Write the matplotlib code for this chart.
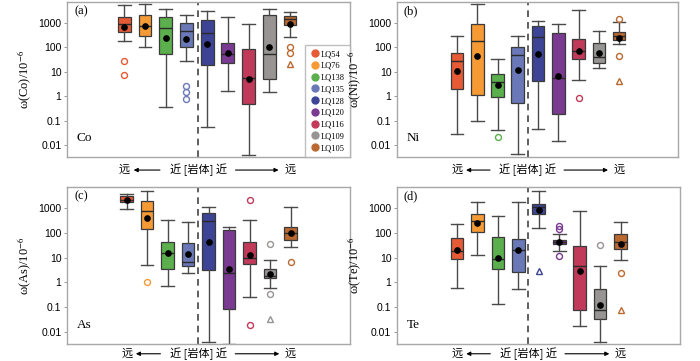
import matplotlib
matplotlib.use("Agg")
import matplotlib.pyplot as plt
from matplotlib.lines import Line2D

plt.rcParams['font.family'] = ['Liberation Serif', 'Noto Sans CJK SC']
plt.rcParams['mathtext.fontset'] = 'stix'

samples = ['LQ54', 'LQ76', 'LQ138', 'LQ135', 'LQ128', 'LQ120', 'LQ116', 'LQ109', 'LQ105']
colors = ['#E65A35', '#F59A35', '#5BAF4C', '#6A78B8', '#3D4496',
          '#7A3A92', '#C23A5A', '#999494', '#BA6A30']

# each row: whisker low, q1, median, q3, whisker high, mean
co_box = [
    [185, 415, 855, 1650, 5250, 690],
    [105, 290, 755, 2050, 5760, 755],
    [0.38, 53, 625, 1760, 3720, 245],
    [27, 105, 470, 1000, 2050, 216],
    [0.058, 18, 380, 1280, 2900, 139],
    [1.6, 22, 51, 153, 1650, 58],
    [0.0041, 0.48, 5.3, 82, 880, 5.0],
    [1.45, 5.0, 51, 2050, 3500, 98],
    [260, 800, 1450, 1810, 2720, 855],
]
ni_box = [
    [0.029, 1.95, 27, 59, 280, 11],
    [0.093, 1.12, 180, 855, 5500, 44],
    [0.043, 0.95, 3.9, 8.1, 32, 2.76],
    [0.0045, 0.51, 47, 105, 290, 11.5],
    [0.045, 4.0, 263, 760, 1170, 54],
    [0.015, 0.19, 5.5, 370, 855, 6.9],
    [4.4, 33, 69, 205, 3150, 69],
    [13.5, 22, 41, 142, 447, 56],
    [132, 193, 290, 395, 1030, 233],
]
as_box = [
    [885, 1690, 2170, 2950, 3550, 2170],
    [5.2, 146, 780, 1910, 4690, 395],
    [0.69, 3.5, 15.4, 41.5, 338, 14.9],
    [2.35, 4.6, 6.9, 39, 264, 14],
    [0.004, 3.1, 308, 610, 1100, 44],
    [0.0034, 0.087, 2.35, 123, 171, 3.4],
    [0.27, 5.5, 9.3, 44, 338, 12.7],
    [0.59, 1.45, 1.8, 3.5, 7.8, 2.1],
    [27, 50, 102, 177, 1130, 98],
]
te_box = [
    [0.57, 9.1, 19, 63, 225, 20],
    [12.4, 110, 306, 570, 1750, 240],
    [0.13, 3.5, 8.9, 65, 460, 9.8],
    [0.54, 2.7, 20, 57, 1750, 20],
    [155, 590, 1100, 1450, 4900, 805],
    [19, 34, 43, 52, 91, 43],
    [0.017, 0.081, 4.5, 29, 730, 2.9],
    [0.0041, 0.034, 0.081, 0.53, 4.5, 0.12],
    [8.3, 22.5, 41, 91, 280, 34],
]

# outliers: (sample index, value, marker)
co_out = [(0, 27, 'o'), (0, 7.4, 'o'), (3, 2.7, 'o'), (3, 1.55, 'o'), (3, 0.8, 'o'),
          (8, 105, 'o'), (8, 60, 'o'), (8, 20, '^')]
ni_out = [(2, 0.022, 'o'), (6, 0.87, 'o'), (8, 1360, 'o'), (8, 45, 'o'), (8, 4.3, '^')]
as_out = [(1, 1.07, 'o'), (6, 2040, 'o'), (6, 0.02, 'o'), (7, 36.5, 'o'), (7, 0.33, 'o'),
          (7, 0.033, '^'), (8, 6.9, 'o')]
te_out = [(4, 2.95, '^'), (5, 190, 'o'), (5, 135, 'o'), (5, 12, 'o'), (7, 32, 'o'),
          (8, 2.3, 'o'), (8, 0.076, '^')]

panels = [
    ('(a)', 'Co', co_box, co_out, [0.0957, 0.565, 0.4043, 0.4295], -1.77, 4.57, -0.084),
    ('(b)', 'Ni', ni_box, ni_out, [0.567, 0.565, 0.4016, 0.4295], -1.96, 4.48, -0.084),
    ('(c)', 'As', as_box, as_out, [0.0957, 0.047, 0.4043, 0.435], -1.91, 4.5, -0.062),
    ('(d)', 'Te', te_box, te_out, [0.567, 0.047, 0.4043, 0.435], -1.94, 4.48, -0.062),
]

fig = plt.figure(figsize=(7, 3.61), dpi=100)

for tag, elem, box, out, rect, xlo, xdash, yb in panels:
    ax = fig.add_axes(rect)
    pos = list(range(1, len(samples) + 1))
    stats = []
    for row in box:
        stats.append(dict(whislo=row[0], q1=row[1], med=row[2], q3=row[3],
                          whishi=row[4], mean=row[5], fliers=[]))
    bp = ax.bxp(stats, positions=pos, widths=0.62, capwidths=0.62,
                patch_artist=True, showmeans=True, showfliers=False,
                boxprops=dict(edgecolor='#3a3a3a', linewidth=0.9),
                whiskerprops=dict(color='#4a4a4a', linewidth=1.0),
                capprops=dict(color='#4a4a4a', linewidth=1.0),
                medianprops=dict(color='#2a2a2a', linewidth=1.0),
                meanprops=dict(marker='o', markerfacecolor='black',
                               markeredgecolor='black', markersize=3.8))
    for patch, c in zip(bp['boxes'], colors):
        patch.set_facecolor(c)
    for i, v, m in out:
        ax.plot(pos[i], v, marker=m, linestyle='none', markerfacecolor='none',
                markeredgecolor=colors[i], markeredgewidth=1.0, markersize=4.3)

    ax.set_yscale('log')
    ax.set_ylim(10 ** -2.48, 10 ** 3.84)
    ax.set_xlim(xlo, 11.9)
    ax.axvline(xdash, color='#444444', linestyle=(0, (4, 3)), linewidth=1.2)
    ax.set_xticks([])
    ax.set_yticks([0.01, 0.1, 1, 10, 100, 1000])
    ax.set_yticklabels(['0.01', '0.1', '1', '10', '100', '1000'],
                       fontfamily='Liberation Sans', fontsize=7.5)
    ax.minorticks_off()
    ax.tick_params(axis='y', length=2, width=0.6, color='#888888', pad=2)
    for sp in ax.spines.values():
        sp.set_color('#a8a8a8')
        sp.set_linewidth(1.0)
    ax.set_ylabel('ω(%s)/10$^{-6}$' % elem, fontsize=9, labelpad=3)

    ax.text(0.025, 0.94, tag, transform=ax.transAxes, fontsize=9, va='center')
    ax.text(0.035, 0.12, elem, transform=ax.transAxes, fontsize=9.5, va='center')

    # distance annotation below the panel
    tr = ax.get_xaxis_transform()
    ax.text(pos[0], yb, '远', transform=tr, ha='center', va='center',
            fontsize=8, fontfamily='Noto Sans CJK SC', clip_on=False)
    ax.text(pos[-1], yb, '远', transform=tr, ha='center', va='center',
            fontsize=8, fontfamily='Noto Sans CJK SC', clip_on=False)
    ax.text(xdash, yb, '近 [岩体] 近', transform=tr, ha='center', va='center',
            fontsize=8, fontfamily='Noto Sans CJK SC', clip_on=False)
    ax.annotate('', xy=(pos[0] + 0.45, yb), xytext=(xdash - 1.85, yb), xycoords=tr,
                textcoords=tr, annotation_clip=False,
                arrowprops=dict(arrowstyle='-|>', color='black', lw=0.8,
                                mutation_scale=6, shrinkA=0, shrinkB=0))
    ax.annotate('', xy=(pos[-1] - 0.55, yb), xytext=(xdash + 1.8, yb), xycoords=tr,
                textcoords=tr, annotation_clip=False,
                arrowprops=dict(arrowstyle='-|>', color='black', lw=0.8,
                                mutation_scale=6, shrinkA=0, shrinkB=0))

    if tag == '(a)':
        handles = [Line2D([], [], marker='o', linestyle='none', markerfacecolor=c,
                          markeredgecolor=c, markersize=5) for c in colors]
        ax.legend(handles, samples, loc='lower right', bbox_to_anchor=(1.0, 0.0),
                  fontsize=6, frameon=True, fancybox=False, edgecolor='#b0b0b0',
                  handletextpad=0.1, labelspacing=0.45, borderpad=0.6,
                  handlelength=1.2, borderaxespad=0.0)

fig.savefig('out.png', dpi=100)
